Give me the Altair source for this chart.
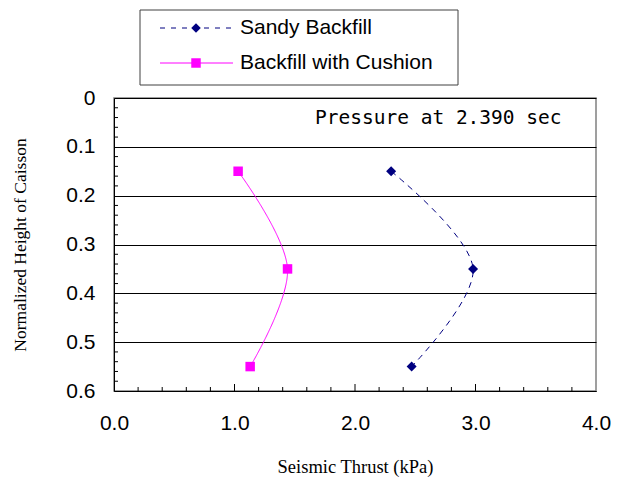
import altair as alt
import pandas as pd

series_names = ["Sandy Backfill", "Backfill with Cushion"]
heights = [0.15, 0.35, 0.55]
sandy_thrust = [2.30, 2.98, 2.47]
cushion_thrust = [1.03, 1.44, 1.13]
series_colors = ["#000080", "#FF00FF"]
series_shapes = ["diamond", "square"]

x_ticks_minor = [0.2, 0.4, 0.6, 0.8, 1.2, 1.4, 1.6, 1.8, 2.2, 2.4, 2.6, 2.8, 3.2, 3.4, 3.6, 3.8]
x_ticks_major = [1.0, 2.0, 3.0]
x_labels = [0.0, 1.0, 2.0, 3.0, 4.0]
y_labels = [0.0, 0.1, 0.2, 0.3, 0.4, 0.5, 0.6]
y_ticks_minor = [0.02, 0.04, 0.06, 0.08, 0.12, 0.14, 0.16, 0.18, 0.22, 0.24, 0.26, 0.28,
                 0.32, 0.34, 0.36, 0.38, 0.42, 0.44, 0.46, 0.48, 0.52, 0.54, 0.56, 0.58]
annotation = "Pressure at 2.390 sec"

rows = []
for name, vals in zip(series_names, [sandy_thrust, cushion_thrust]):
    for i, (h, v) in enumerate(zip(heights, vals)):
        rows.append({"series": name, "height": h, "thrust": v, "idx": i})
df = pd.DataFrame(rows)

W, H = 482, 293

xscale = alt.Scale(domain=[0, 4], nice=False, zero=False)
yscale = alt.Scale(domain=[0, 0.6], reverse=True, nice=False, zero=False)
cscale = alt.Scale(domain=series_names, range=series_colors)

x_enc = alt.X("thrust:Q", scale=xscale,
              axis=alt.Axis(title="Seismic Thrust (kPa)", values=x_labels, format=".1f",
                            grid=False, ticks=False, domainColor="black", labelFlush=False,
                            labelFont="Liberation Sans", labelFontSize=21, labelColor="black",
                            labelPadding=21, titleFont="Liberation Serif", titleFontSize=18.5,
                            titleFontWeight="normal", titleColor="black", titlePadding=24))
y_enc = alt.Y("height:Q", scale=yscale,
              axis=alt.Axis(title="Normalized Height of Caisson", values=y_labels, format=".1~f",
                            grid=True, gridColor="black", gridWidth=1, gridOpacity=1,
                            ticks=False, domainColor="black", labelFlush=False,
                            labelFont="Liberation Sans", labelFontSize=21, labelColor="black",
                            labelPadding=19, titleFont="Liberation Serif", titleFontSize=17.5,
                            titleFontWeight="normal", titleColor="black", titlePadding=36))

base = alt.Chart(df)

lines = base.mark_line(interpolate="catmull-rom", strokeWidth=1).encode(
    x=x_enc, y=y_enc,
    color=alt.Color("series:N", scale=cscale, legend=None),
    strokeDash=alt.StrokeDash("series:N", scale=alt.Scale(domain=series_names, range=[[6, 5], [1, 0]]), legend=None),
    order="idx:Q",
)
points = base.mark_point(filled=True, opacity=1).encode(
    x="thrust:Q", y="height:Q",
    color=alt.Color("series:N", scale=cscale, legend=None),
    shape=alt.Shape("series:N", scale=alt.Scale(domain=series_names, range=series_shapes), legend=None),
    size=alt.Size("series:N", scale=alt.Scale(domain=series_names, range=[100, 90]), legend=None),
)

xt_minor = alt.Chart(pd.DataFrame({"t": x_ticks_minor})).mark_rule(color="black", strokeWidth=1).encode(
    x=alt.X("t:Q", scale=xscale), y=alt.value(H), y2=alt.value(H - 4))
xt_major = alt.Chart(pd.DataFrame({"t": x_ticks_major})).mark_rule(color="black", strokeWidth=1).encode(
    x=alt.X("t:Q", scale=xscale), y=alt.value(H), y2=alt.value(H - 7))
yt_minor = alt.Chart(pd.DataFrame({"t": y_ticks_minor})).mark_rule(color="black", strokeWidth=1).encode(
    y=alt.Y("t:Q", scale=yscale), x=alt.value(0), x2=alt.value(4))

ann = alt.Chart(pd.DataFrame({"t": [annotation]})).mark_text(
    font="DejaVu Sans Mono", fontSize=19.5, align="left", baseline="middle", color="black"
).encode(x=alt.value(201), y=alt.value(20), text="t:N")

# legend (drawn above plot area)
leg_box = alt.Chart(pd.DataFrame({"a": [0]})).mark_rect(
    fill="white", stroke="#404040", strokeWidth=1
).encode(x=alt.value(26), x2=alt.value(344), y=alt.value(-88), y2=alt.value(-13))

leg_layers = [leg_box]
leg_rows_y = [-70, -35]
dashes = [[5, 6], [1, 0]]
for name, col, shp, ly, dsh in zip(series_names, series_colors, series_shapes, leg_rows_y, dashes):
    d = pd.DataFrame({"label": [name]})
    leg_layers.append(alt.Chart(d).mark_rule(color=col, strokeWidth=1, strokeDash=dsh).encode(
        x=alt.value(46), x2=alt.value(119), y=alt.value(ly)))
    leg_layers.append(alt.Chart(d).mark_point(filled=True, opacity=1, color=col, shape=shp, size=90).encode(
        x=alt.value(82), y=alt.value(ly)))
    leg_layers.append(alt.Chart(d).mark_text(
        font="Liberation Sans", fontSize=21, align="left", baseline="middle", color="black"
    ).encode(x=alt.value(126), y=alt.value(ly), text="label:N"))

chart = alt.layer(
    lines, points, xt_minor, xt_major, yt_minor, ann, *leg_layers
).properties(
    width=W, height=H,
    autosize=alt.AutoSizeParams(type="none"),
    padding={"left": 114, "top": 98, "right": 30, "bottom": 88},
    background="white",
).configure_view(stroke="#808080", strokeWidth=1.5)

chart.save("out.html", embed_options={"renderer": "svg", "actions": False})
